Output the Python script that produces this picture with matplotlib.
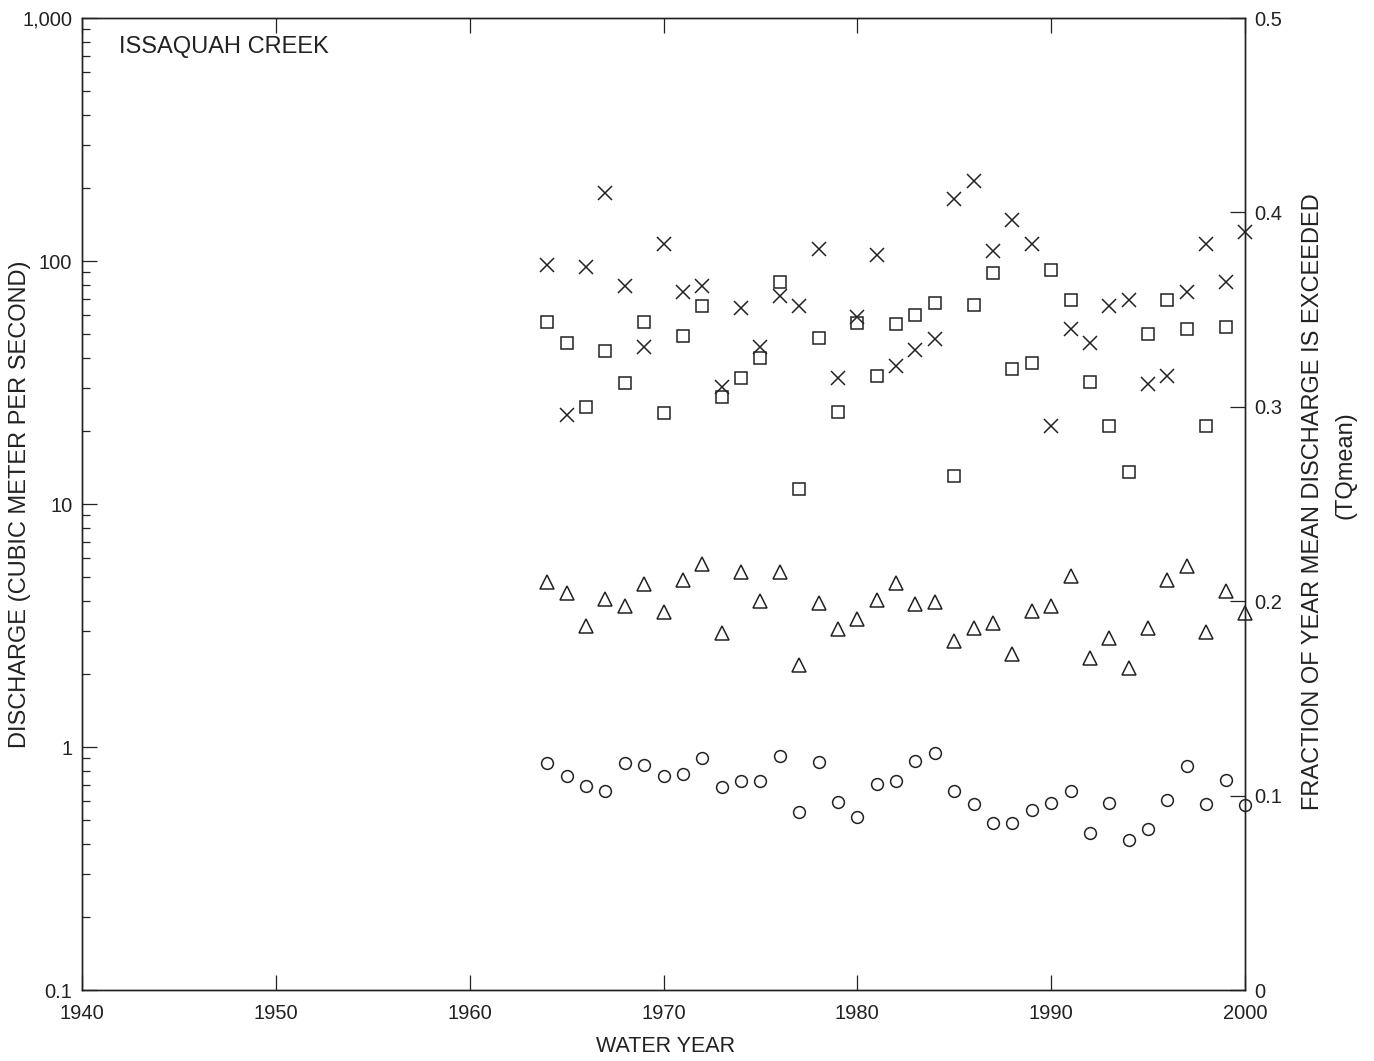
import matplotlib
matplotlib.use("Agg")
import matplotlib.pyplot as plt
import numpy as np
from matplotlib.ticker import LogLocator, NullFormatter

plt.rcParams['font.family'] = ['Liberation Sans', 'DejaVu Sans']

years = np.arange(1964, 2001)

# annual peak discharge (squares), 1964-1999
peak = [56, 46, 25, 42.5, 31.4, 56, 23.6, 49, 65, 27.5, 33, 40, 82, 11.5,
        48, 24, 55.5, 33.5, 55, 60, 67, 13.1, 66, 89, 36, 38, 92, 69, 31.7,
        21, 13.5, 50, 69, 52.5, 20.9, 53.4]

# annual mean discharge (triangles)
mean_q = [4.79, 4.31, 3.16, 4.08, 3.81, 4.70, 3.60, 4.88, 5.69, 2.95, 5.27,
          4.00, 5.27, 2.18, 3.92, 3.07, 3.37, 4.04, 4.75, 3.89, 3.96, 2.74,
          3.10, 3.25, 2.42, 3.64, 3.81, 5.07, 2.33, 2.81, 2.12, 3.10, 4.88,
          5.58, 2.98, 4.40, 3.57]

# annual low flow (circles)
low_q = [0.859, 0.759, 0.690, 0.659, 0.859, 0.843, 0.759, 0.774, 0.901,
         0.684, 0.724, 0.724, 0.918, 0.540, 0.867, 0.593, 0.514, 0.703,
         0.724, 0.876, 0.945, 0.659, 0.582, 0.486, 0.486, 0.550, 0.588,
         0.659, 0.442, 0.588, 0.413, 0.459, 0.605, 0.835, 0.582, 0.731,
         0.577]

# TQmean, fraction of year mean discharge is exceeded (x marks, right axis)
tqmean = [0.373, 0.296, 0.372, 0.410, 0.362, 0.331, 0.384, 0.359, 0.362,
          0.310, 0.351, 0.331, 0.357, 0.352, 0.381, 0.315, 0.346, 0.378,
          0.321, 0.329, 0.335, 0.407, 0.416, 0.380, 0.396, 0.384, 0.290,
          0.340, 0.333, 0.352, 0.355, 0.312, 0.316, 0.359, 0.384, 0.364,
          0.390]

fig = plt.figure(figsize=(13.74, 10.61), dpi=100)
ax = fig.add_axes([0.0597, 0.0669, 0.8464, 0.9161])
ax2 = ax.twinx()

ink = '#222222'
mk = dict(linestyle='none', markerfacecolor='none', markeredgecolor=ink,
          markeredgewidth=1.1, clip_on=False)

ax.plot(years[:len(peak)], peak, marker='s', markersize=8.5, **mk)
ax.plot(years, mean_q, marker='^', markersize=9.5, **mk)
ax.plot(years, low_q, marker='o', markersize=8.5, **mk)
ax2.plot(years, tqmean, marker='x', markersize=10.5, **mk)

ax.set_yscale('log')
ax.set_ylim(0.1, 1000)
ax.set_xlim(1940, 2000)
ax.set_xticks([1940, 1950, 1960, 1970, 1980, 1990, 2000])
ax.set_yticks([0.1, 1, 10, 100, 1000])
ax.set_yticklabels(['0.1', '1', '10', '100', '1,000'])
ax.yaxis.set_minor_locator(LogLocator(base=10, subs=np.arange(2, 10)))
ax.yaxis.set_minor_formatter(NullFormatter())

ax2.set_ylim(0, 0.5)
ax2.set_yticks([0, 0.1, 0.2, 0.3, 0.4, 0.5])
ax2.set_yticklabels(['0', '0.1', '0.2', '0.3', '0.4', '0.5'])

ax.tick_params(axis='both', which='major', direction='in', length=11,
               width=0.9, labelsize=14.5, colors=ink, pad=7)
ax.tick_params(axis='x', top=True, pad=10)
ax.tick_params(axis='y', which='minor', direction='in', length=6, width=0.9,
               colors=ink)
ax.tick_params(axis='y', right=False)
ax2.tick_params(axis='y', direction='in', length=11, width=0.9,
                labelsize=14.5, colors=ink, pad=7)

for a in (ax, ax2):
    for s in a.spines.values():
        s.set_linewidth(1.0)
        s.set_color(ink)

fig.text(0.4845, 0.0132, 'WATER YEAR', fontsize=15.5, color=ink,
         ha='center', va='center')
fig.text(0.0146, 0.525, 'DISCHARGE (CUBIC METER PER SECOND)', fontsize=17,
         color=ink, ha='center', va='center', rotation=90)
fig.text(0.9556, 0.527, 'FRACTION OF YEAR MEAN DISCHARGE IS EXCEEDED',
         fontsize=17, color=ink, ha='center', va='center', rotation=90)
fig.text(0.979, 0.562, '(TQmean)', fontsize=17, color=ink,
         ha='center', va='center', rotation=90)

ax.text(0.032, 0.982, 'ISSAQUAH CREEK', transform=ax.transAxes,
        fontsize=17, color=ink, va='top', ha='left')

fig.savefig('out.png', dpi=100)
